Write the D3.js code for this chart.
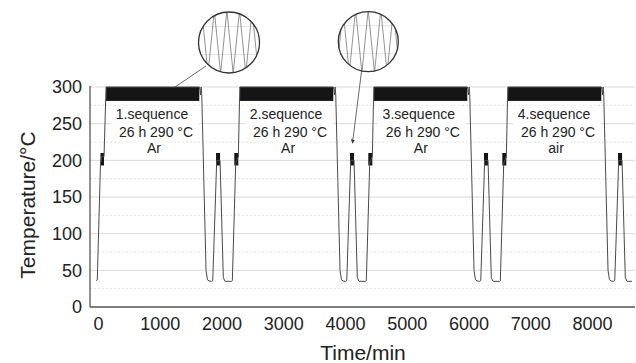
<!DOCTYPE html>
<html>
<head>
<meta charset="utf-8">
<script src="https://cdn.jsdelivr.net/npm/d3@7"></script>
<style>
  body { margin: 0; background: #fff; }
  svg { display: block; }
</style>
</head>
<body>
<svg id="chart" width="636" height="363"></svg>
<script>
// ticks
const xTicks = [0, 1000, 2000, 3000, 4000, 5000, 6000, 7000, 8000];
const yTicks = [0, 50, 100, 150, 200, 250, 300];
const yMinorTicks = [25, 75, 125, 175, 225, 275];

// temperature profile [time in min, temperature in °C]
const tempProfile = [
  [-30, 36], [-12, 37], [40, 196], [60, 205], [97, 205], [130, 300], [1640, 300],
  [1650, 297], [1660, 289], [1670, 300], [1680, 289], [1749, 50], [1773, 37], [1800, 35.5], [1841, 35],
  [1858, 36], [1922, 200], [1976, 200], [2029, 40], [2057, 35], [2165, 35],
  [2175, 36], [2230, 196], [2272, 205], [2296, 300], [3810, 300],
  [3820, 297], [3830, 289], [3840, 300], [3850, 289], [3919, 50], [3943, 37], [3970, 35.5], [4011, 35],
  [4028, 36], [4092, 200], [4146, 200], [4199, 40], [4227, 35], [4335, 35],
  [4345, 36], [4400, 196], [4442, 205], [4466, 300], [5980, 300],
  [5990, 297], [6000, 289], [6010, 300], [6020, 289], [6089, 50], [6113, 37], [6140, 35.5], [6181, 35],
  [6198, 36], [6262, 200], [6316, 200], [6369, 40], [6397, 35], [6505, 35],
  [6515, 36], [6570, 196], [6612, 205], [6636, 300], [8150, 300],
  [8160, 297], [8170, 289], [8180, 300], [8190, 289], [8259, 50], [8283, 37], [8310, 35.5], [8351, 35],
  [8368, 36], [8432, 200], [8486, 200], [8539, 40], [8567, 35], [8648, 35]
];

// 26 h holds at 290 °C, drawn as dense oscillation bands
const holdStart = [130, 2300, 4470, 6640];
const holdEnd = [1640, 3810, 5980, 8150];
const holdRange = [281, 300];

// short dwells around 200 °C
const dwellStart = [40, 1911, 2207, 4081, 4377, 6251, 6547, 8421];
const dwellEnd = [97, 1976, 2272, 4146, 4442, 6316, 6612, 8486];
const dwellRange = [193, 210];

// annotations
const seqNames = ["1.sequence", "2.sequence", "3.sequence", "4.sequence"];
const seqCondition = ["26 h 290 °C", "26 h 290 °C", "26 h 290 °C", "26 h 290 °C"];
const seqGas = ["Ar", "Ar", "Ar", "air"];
const seqCenter = [874, 3045, 5195, 7385];

// magnified oscillation shown in the two round insets
const insetWave = [281, 300, 281, 300, 281, 300, 281, 300, 281, 300, 281, 300];
const insetTargets = [[1247, 300], [4120, 223]];

const svg = d3.select("#chart");
const font = "'Liberation Sans', Arial, sans-serif";
const plotLeft = 90, plotRight = 635, plotTop = 87, plotBottom = 307;

const x = d3.scaleLinear().domain([-130, 8696]).range([plotLeft, plotRight]);
const y = d3.scaleLinear().domain([0, 300]).range([plotBottom, plotTop]);

// grid
svg.append("g")
  .selectAll("line")
  .data(yTicks.filter((d) => d > 0))
  .join("line")
  .attr("x1", plotLeft)
  .attr("x2", plotRight)
  .attr("y1", (d) => y(d))
  .attr("y2", (d) => y(d))
  .attr("stroke", "#d9d9d9");

svg.append("g")
  .selectAll("line")
  .data(yMinorTicks)
  .join("line")
  .attr("x1", plotLeft)
  .attr("x2", plotRight)
  .attr("y1", (d) => y(d))
  .attr("y2", (d) => y(d))
  .attr("stroke", "#e2e2e2")
  .attr("stroke-dasharray", "2,2");

// sequence labels with white boxes behind each line
const labels = svg.append("g").attr("font-family", font).attr("font-size", 14).attr("fill", "#222");
seqCenter.forEach((c, i) => {
  const rows = [
    { text: seqNames[i], dx: 0, base: 119 },
    { text: seqCondition[i], dx: 4, base: 136.5 },
    { text: seqGas[i], dx: 2, base: 153 }
  ];
  rows.forEach((r) => {
    const box = labels.append("rect").attr("fill", "#fff");
    const t = labels
      .append("text")
      .attr("x", x(c) + r.dx)
      .attr("y", r.base)
      .attr("text-anchor", "middle")
      .text(r.text);
    const bb = t.node().getBBox();
    box
      .attr("x", bb.x - 8)
      .attr("width", bb.width + 14)
      .attr("y", r.base - 13.5)
      .attr("height", 17);
  });
});

// oscillation bands
svg.append("g")
  .selectAll("rect")
  .data(holdStart)
  .join("rect")
  .attr("x", (d) => x(d))
  .attr("width", (d, i) => x(holdEnd[i]) - x(d))
  .attr("y", y(holdRange[1]))
  .attr("height", y(holdRange[0]) - y(holdRange[1]))
  .attr("fill", "#151515");

svg.append("g")
  .selectAll("rect")
  .data(dwellStart)
  .join("rect")
  .attr("x", (d) => x(d))
  .attr("width", (d, i) => x(dwellEnd[i]) - x(d))
  .attr("y", y(dwellRange[1]))
  .attr("height", y(dwellRange[0]) - y(dwellRange[1]))
  .attr("fill", "#151515");

// profile line
const line = d3
  .line()
  .x((d) => x(d[0]))
  .y((d) => y(d[1]));

svg.append("path")
  .datum(tempProfile)
  .attr("fill", "none")
  .attr("stroke", "#4a4a4a")
  .attr("stroke-width", 1)
  .attr("d", line);

// axes
const yAxis = svg
  .append("g")
  .attr("transform", `translate(${plotLeft},0)`)
  .call(d3.axisLeft(y).tickValues(yTicks).tickSize(0).tickPadding(8));
yAxis.select(".domain").remove();
yAxis.attr("font-family", font).attr("font-size", 18).attr("color", "#222");

const xAxis = svg
  .append("g")
  .attr("transform", `translate(0,${plotBottom})`)
  .call(d3.axisBottom(x).tickValues(xTicks).tickFormat(d3.format("d")).tickSize(0).tickPadding(10));
xAxis.select(".domain").remove();
xAxis.attr("font-family", font).attr("font-size", 18).attr("color", "#222");

svg.append("line")
  .attr("x1", plotLeft).attr("x2", plotLeft)
  .attr("y1", y(300) - 1).attr("y2", plotBottom)
  .attr("stroke", "#555").attr("stroke-width", 1.3);
svg.append("line")
  .attr("x1", plotLeft).attr("x2", plotRight)
  .attr("y1", plotBottom).attr("y2", plotBottom)
  .attr("stroke", "#555").attr("stroke-width", 1.3);

// axis titles
svg.append("text")
  .attr("x", 363)
  .attr("y", 360)
  .attr("text-anchor", "middle")
  .attr("font-family", font)
  .attr("font-size", 21)
  .attr("fill", "#222")
  .text("Time/min");

svg.append("text")
  .attr("transform", "translate(35,205) rotate(-90)")
  .attr("text-anchor", "middle")
  .attr("font-family", font)
  .attr("font-size", 21)
  .attr("fill", "#222")
  .text("Temperature/°C");

// insets
svg.append("defs")
  .append("marker")
  .attr("id", "arrow")
  .attr("viewBox", "0 0 10 10")
  .attr("refX", 10)
  .attr("refY", 5)
  .attr("markerWidth", 5)
  .attr("markerHeight", 6)
  .attr("orient", "auto")
  .append("path")
  .attr("d", "M0,0L10,5L0,10Z")
  .attr("fill", "#333");

const insets = [
  { cx: 229, cy: 42.5, r: 30.5, from: [206, 66], shift: 0, arrow: false },
  { cx: 368.3, cy: 41.7, r: 30, from: [361.7, 70], shift: 2, arrow: true }
];

insets.forEach((ins, i) => {
  const target = insetTargets[i];
  svg.append("line")
    .attr("x1", ins.from[0])
    .attr("y1", ins.from[1])
    .attr("x2", x(target[0]))
    .attr("y2", y(target[1]))
    .attr("stroke", "#444")
    .attr("stroke-width", 0.8)
    .attr("marker-end", ins.arrow ? "url(#arrow)" : null);

  const g = svg.append("g").attr("transform", `translate(${ins.cx},${ins.cy})`);
  g.append("clipPath")
    .attr("id", `inset-clip-${i}`)
    .append("circle")
    .attr("r", ins.r);
  g.append("circle").attr("r", ins.r).attr("fill", "#fff");

  const inner = g.append("g").attr("clip-path", `url(#inset-clip-${i})`);
  inner.selectAll("line")
    .data([-16, 12])
    .join("line")
    .attr("x1", -ins.r)
    .attr("x2", ins.r)
    .attr("y1", (d) => d)
    .attr("y2", (d) => d)
    .attr("stroke", "#e4e4e4");

  const ix = d3.scaleLinear().domain([0, insetWave.length - 1]).range([-33.6 + ins.shift, 35.7 + ins.shift]);
  const iy = d3.scaleLinear().domain(holdRange).range([31, -32]);
  inner.append("path")
    .datum(insetWave)
    .attr("fill", "none")
    .attr("stroke", "#777")
    .attr("stroke-width", 0.8)
    .attr("d", d3.line().x((d, k) => ix(k)).y((d) => iy(d)));

  g.append("circle")
    .attr("r", ins.r)
    .attr("fill", "none")
    .attr("stroke", "#333")
    .attr("stroke-width", 1.3);
});
</script>
</body>
</html>
